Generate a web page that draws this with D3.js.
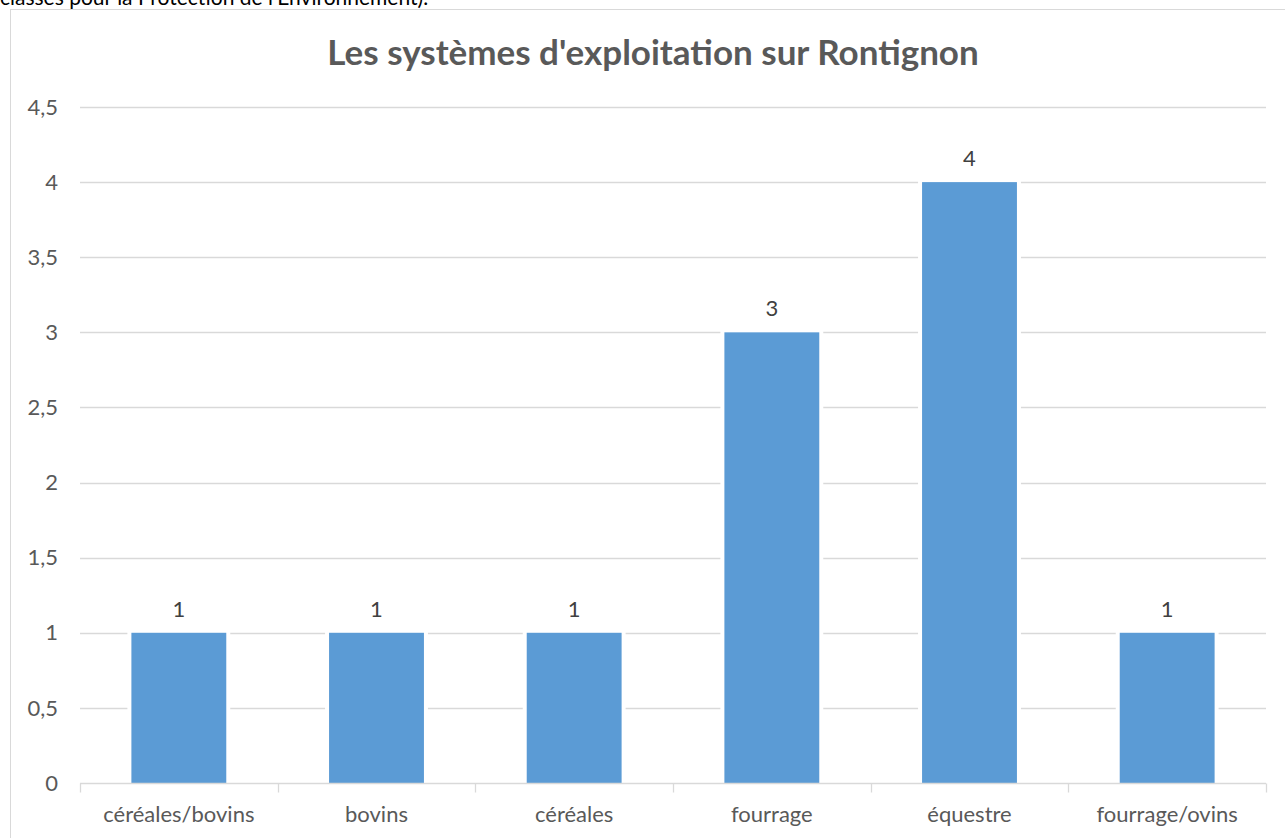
<!DOCTYPE html>
<html>
<head>
<meta charset="utf-8">
<script src="https://cdn.jsdelivr.net/npm/d3@7"></script>
<style>
  body { margin: 0; background: #fff; }
  svg { display: block; font-family: Lato, "Open Sans", sans-serif; }
</style>
</head>
<body>
<div id="chart"></div>
<script>
var categories = ["céréales/bovins", "bovins", "céréales", "fourrage", "équestre", "fourrage/ovins"];
var values = [1, 1, 1, 3, 4, 1];
var yTicks = [0, 0.5, 1, 1.5, 2, 2.5, 3, 3.5, 4, 4.5];

var w = 1285, h = 838;
var margin = {left: 80, right: 19, top: 107, bottom: 55};

var svg = d3.select("#chart").append("svg")
    .attr("width", w)
    .attr("height", h);

// text above the chart (cropped paragraph)
svg.append("text")
    .attr("x", 0).attr("y", 5)
    .attr("font-size", 21)
    .attr("fill", "#000")
    .text("classés pour la Protection de l'Environnement).");

// chart frame
svg.append("rect")
    .attr("x", 10.5).attr("y", 9.5)
    .attr("width", w).attr("height", h)
    .attr("fill", "none")
    .attr("stroke", "#d9d9d9");

svg.append("text")
    .attr("x", 653).attr("y", 65)
    .attr("text-anchor", "middle")
    .attr("font-size", 35)
    .attr("font-weight", "bold")
    .attr("fill", "#595959")
    .text("Les systèmes d'exploitation sur Rontignon");

var x = d3.scaleBand()
    .domain(categories)
    .range([margin.left, w - margin.right])
    .paddingInner(0.52)
    .paddingOuter(0.26);

var y = d3.scaleLinear()
    .domain([0, 4.5])
    .range([h - margin.bottom, margin.top]);

// gridlines
svg.append("g").selectAll("line")
    .data(yTicks.filter(function(d) { return d > 0; }))
  .enter().append("line")
    .attr("x1", margin.left).attr("x2", w - margin.right)
    .attr("y1", function(d) { return Math.round(y(d)) + 0.5; })
    .attr("y2", function(d) { return Math.round(y(d)) + 0.5; })
    .attr("stroke", "#d9d9d9")
    .attr("stroke-width", 1.3);

// y labels
svg.append("g").selectAll("text")
    .data(yTicks)
  .enter().append("text")
    .attr("x", 58)
    .attr("y", function(d) { return y(d); })
    .attr("dy", "0.35em")
    .attr("text-anchor", "end")
    .attr("font-size", 22)
    .attr("fill", "#595959")
    .text(function(d) { return String(d).replace(".", ","); });

// bars with a white gap around them
var bars = svg.append("g").selectAll("g")
    .data(values)
  .enter().append("g");

bars.append("rect")
    .attr("x", function(d, i) { return x(categories[i]) - 4; })
    .attr("y", function(d) { return y(d) - 3; })
    .attr("width", x.bandwidth() + 8)
    .attr("height", function(d) { return y(0) - y(d) + 3; })
    .attr("fill", "#fff");

bars.append("rect")
    .attr("x", function(d, i) { return x(categories[i]); })
    .attr("y", function(d) { return y(d); })
    .attr("width", x.bandwidth())
    .attr("height", function(d) { return y(0) - y(d); })
    .attr("fill", "#5b9bd5");

bars.append("text")
    .attr("x", function(d, i) { return x(categories[i]) + x.bandwidth() / 2; })
    .attr("y", function(d) { return y(d) - 16; })
    .attr("text-anchor", "middle")
    .attr("font-size", 22)
    .attr("fill", "#404040")
    .text(function(d) { return d; });

// x axis
var xAxis = svg.append("g")
    .attr("transform", "translate(0," + (Math.round(y(0)) + 0.5) + ")");

xAxis.append("line")
    .attr("x1", margin.left).attr("x2", w - margin.right)
    .attr("stroke", "#d9d9d9").attr("stroke-width", 1.3);

var step = x.step();
xAxis.selectAll(".tick")
    .data(d3.range(categories.length + 1))
  .enter().append("line")
    .attr("class", "tick")
    .attr("x1", function(i) { return Math.round(margin.left + i * step) + 0.5; })
    .attr("x2", function(i) { return Math.round(margin.left + i * step) + 0.5; })
    .attr("y1", 0).attr("y2", 9)
    .attr("stroke", "#d9d9d9").attr("stroke-width", 1.3);

xAxis.selectAll(".lbl")
    .data(categories)
  .enter().append("text")
    .attr("class", "lbl")
    .attr("x", function(d) { return x(d) + x.bandwidth() / 2; })
    .attr("y", 38)
    .attr("text-anchor", "middle")
    .attr("font-size", 22)
    .attr("fill", "#595959")
    .text(function(d) { return d; });
</script>
</body>
</html>
